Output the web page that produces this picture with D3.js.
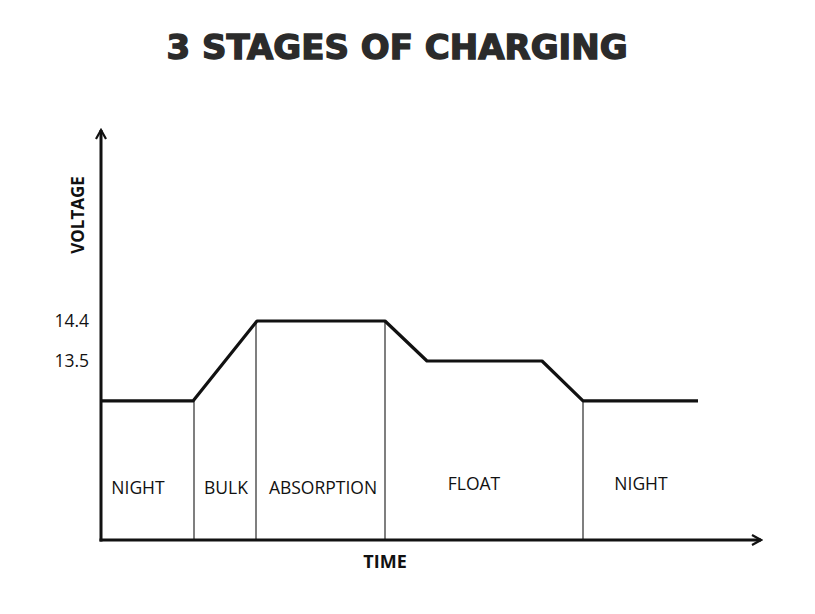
<!DOCTYPE html>
<html>
<head>
<meta charset="utf-8">
<script src="https://cdn.jsdelivr.net/npm/d3@7"></script>
<style>
  body { margin: 0; background: #fff; }
  .title { font-family: "DejaVu Sans", sans-serif; font-weight: 900; fill: #2b2b2b; stroke: #2b2b2b; stroke-width: 1.4; }
  .lbl { font-family: "Open Sans", sans-serif; fill: #111; }
</style>
</head>
<body>
<div id="vis"></div>
<script>
// 3 stages of charging - voltage over time

const FRAME_WIDTH = 815;
const FRAME_HEIGHT = 614;

// voltage curve (time in arbitrary units, voltage in volts)
const curveTime = [0, 92, 156, 284, 326, 441, 482, 597];
const curveVolt = [12.6, 12.6, 14.4, 14.4, 13.5, 13.5, 12.6, 12.6];

// stages: where each one starts and where its label sits
const stageNames = ["NIGHT", "BULK", "ABSORPTION", "FLOAT", "NIGHT"];
const stageStart = [0, 93, 155, 284, 482];
const stageLabelTime = [37, 125, 222, 373, 540];
const stageLabelVolt = [10.6, 10.6, 10.6, 10.7, 10.7];

// tick labels on the voltage axis
const tickVolts = [14.4, 13.5];

const FRAME = d3.select("#vis")
  .append("svg")
    .attr("width", FRAME_WIDTH)
    .attr("height", FRAME_HEIGHT);

const X_SCALE = d3.scaleLinear().domain([0, 660]).range([101, 761]);
const Y_SCALE = d3.scaleLinear().domain([9.47, 18.7]).range([540, 130]);

// arrow heads
const defs = FRAME.append("defs");
defs.append("marker")
    .attr("id", "arrow")
    .attr("viewBox", "0 0 12 12")
    .attr("refX", 10).attr("refY", 6)
    .attr("markerWidth", 12).attr("markerHeight", 12)
    .attr("markerUnits", "userSpaceOnUse")
    .attr("orient", "auto")
  .append("path")
    .attr("d", "M1,1 L10,6 L1,11")
    .attr("fill", "none")
    .attr("stroke", "#111")
    .attr("stroke-width", 2.2);

// title
FRAME.append("text")
    .attr("class", "title")
    .attr("x", 397).attr("y", 59)
    .attr("text-anchor", "middle")
    .attr("font-size", 34)
    .attr("letter-spacing", 0)
    .text("3 STAGES OF CHARGING");

// stage dividers
FRAME.selectAll(".divider")
  .data(stageStart.slice(1))
  .enter()
  .append("line")
    .attr("class", "divider")
    .attr("x1", (d) => X_SCALE(d))
    .attr("x2", (d) => X_SCALE(d))
    .attr("y1", Y_SCALE(Y_SCALE.domain()[0]))
    .attr("y2", (d) => {
      // top of the divider meets the curve
      const i = d3.bisectLeft(curveTime, d);
      const t0 = curveTime[Math.max(i - 1, 0)], t1 = curveTime[i];
      const v0 = curveVolt[Math.max(i - 1, 0)], v1 = curveVolt[i];
      const v = t1 === t0 ? v1 : v0 + (v1 - v0) * (d - t0) / (t1 - t0);
      return Y_SCALE(v);
    })
    .attr("stroke", "#555")
    .attr("stroke-width", 1.5);

// voltage curve
const line = d3.line()
  .x((d, i) => X_SCALE(curveTime[i]))
  .y((d) => Y_SCALE(d));

FRAME.append("path")
    .datum(curveVolt)
    .attr("d", line)
    .attr("fill", "none")
    .attr("stroke", "#111")
    .attr("stroke-width", 3.2)
    .attr("stroke-linejoin", "round");

// axes
const Y_AXIS = d3.axisLeft(Y_SCALE).tickValues(tickVolts).tickSize(0).tickPadding(12)
  .tickFormat(d3.format(".1f"));
const gy = FRAME.append("g")
    .attr("transform", "translate(" + X_SCALE(0) + ",0)")
    .call(Y_AXIS);
gy.select(".domain").remove();
gy.selectAll("text")
    .attr("font-family", "Open Sans, sans-serif")
    .attr("font-size", 17.5)
    .attr("fill", "#111");

FRAME.append("line")
    .attr("x1", X_SCALE(0)).attr("x2", X_SCALE(0))
    .attr("y1", Y_SCALE.range()[0] + 1.5).attr("y2", Y_SCALE.range()[1])
    .attr("stroke", "#111").attr("stroke-width", 3)
    .attr("marker-end", "url(#arrow)");

FRAME.append("line")
    .attr("x1", X_SCALE(0) - 1.5).attr("x2", X_SCALE(660))
    .attr("y1", Y_SCALE.range()[0]).attr("y2", Y_SCALE.range()[0])
    .attr("stroke", "#111").attr("stroke-width", 3)
    .attr("marker-end", "url(#arrow)");

// stage labels
FRAME.selectAll(".stage")
  .data(stageNames)
  .enter()
  .append("text")
    .attr("class", "lbl")
    .attr("x", (d, i) => X_SCALE(stageLabelTime[i]))
    .attr("y", (d, i) => Y_SCALE(stageLabelVolt[i]))
    .attr("text-anchor", "middle")
    .attr("dominant-baseline", "middle")
    .attr("font-size", 17.5)
    .text((d) => d);

// axis titles
FRAME.append("text")
    .attr("class", "lbl")
    .attr("x", 385).attr("y", 568)
    .attr("text-anchor", "middle")
    .attr("font-size", 18)
    .attr("font-weight", "bold")
    .text("TIME");

FRAME.append("text")
    .attr("class", "lbl")
    .attr("transform", "translate(84,215) rotate(-90)")
    .attr("text-anchor", "middle")
    .attr("font-size", 17)
    .attr("font-weight", "bold")
    .text("VOLTAGE");
</script>
</body>
</html>
